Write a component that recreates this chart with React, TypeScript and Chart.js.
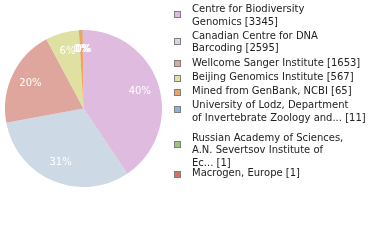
import React, { useEffect, useRef } from "react";
import { Chart, registerables } from "chart.js";

Chart.register(...registerables);

const categories = [
  "Centre for Biodiversity Genomics",
  "Canadian Centre for DNA Barcoding",
  "Wellcome Sanger Institute",
  "Beijing Genomics Institute",
  "Mined from GenBank, NCBI",
  "University of Lodz, Department of Invertebrate Zoology and...",
  "Russian Academy of Sciences, A.N. Severtsov Institute of Ec...",
  "Macrogen, Europe",
];

const values = [3345, 2595, 1653, 567, 65, 11, 1, 1];

// word counts after which each legend label wraps
const legendBreaks = [[3], [4], [], [], [], [4], [4, 8], []];

const colors = [
  "#dfbbdf",
  "#cdd9e5",
  "#dea69d",
  "#dfe0a1",
  "#eda463",
  "#91b1d9",
  "#9fc379",
  "#da705f",
];

// layout constants (legend)
const LEGEND_BOX_X = 174.5;
const LEGEND_TEXT_X = 192;
const LEGEND_LINE_H = 12.5;
const legendFirstLineY = [9.5, 36, 63.5, 77.5, 91, 105.5, 138, 173.5];
const legendBoxY = [14, 41, 63.5, 78.5, 92, 109, 144, 174];

function legendLines(i: number): string[] {
  const words = `${categories[i]} [${values[i]}]`.split(" ");
  const breaks = legendBreaks[i];
  const lines: string[] = [];
  let start = 0;
  for (const b of breaks) {
    lines.push(words.slice(start, b).join(" "));
    start = b;
  }
  lines.push(words.slice(start).join(" "));
  return lines;
}

const legendPlugin = {
  id: "customLegend",
  afterDraw(chart: any) {
    const ctx = chart.ctx as CanvasRenderingContext2D;
    ctx.save();
    ctx.font = '10px "DejaVu Sans"';
    ctx.textBaseline = "middle";
    ctx.textAlign = "left";
    categories.forEach((_, i) => {
      const by = Math.round(legendBoxY[i] - 3.5) + 0.5;
      ctx.fillStyle = colors[i];
      ctx.fillRect(LEGEND_BOX_X, by, 6, 6);
      ctx.strokeStyle = "#7f7f7f";
      ctx.lineWidth = 1;
      ctx.strokeRect(LEGEND_BOX_X, by, 6, 6);
      ctx.fillStyle = "#222222";
      legendLines(i).forEach((line, j) => {
        ctx.fillText(line, LEGEND_TEXT_X, legendFirstLineY[i] + j * LEGEND_LINE_H);
      });
    });
    ctx.restore();
  },
};

const pctPlugin = {
  id: "pctLabels",
  afterDatasetsDraw(chart: any) {
    const ctx = chart.ctx as CanvasRenderingContext2D;
    const meta = chart.getDatasetMeta(0);
    const total = values.reduce((a, b) => a + b, 0);
    ctx.save();
    ctx.font = '10px "DejaVu Sans"';
    ctx.fillStyle = "#ffffff";
    ctx.textAlign = "center";
    ctx.textBaseline = "middle";
    meta.data.forEach((arc: any, i: number) => {
      const { x, y, startAngle, endAngle, outerRadius } = arc.getProps(
        ["x", "y", "startAngle", "endAngle", "outerRadius"],
        true
      );
      const mid = (startAngle + endAngle) / 2;
      const r = outerRadius * 0.75;
      const pct = Math.floor((values[i] / total) * 100);
      ctx.fillText(`${pct}%`, x + Math.cos(mid) * r, y + Math.sin(mid) * r);
    });
    ctx.restore();
  },
};

export default function App() {
  const ref = useRef<HTMLCanvasElement | null>(null);
  useEffect(() => {
    if (!ref.current) return;
    const chart = new Chart(ref.current, {
      type: "pie",
      data: {
        labels: categories,
        datasets: [
          {
            data: values,
            backgroundColor: colors,
            borderWidth: 0,
          },
        ],
      },
      options: {
        responsive: false,
        animation: false,
        layout: { padding: { left: 5, top: 30, right: 218, bottom: 53 } },
        plugins: {
          legend: { display: false },
          tooltip: { enabled: false },
        },
      },
      plugins: [pctPlugin, legendPlugin],
    });
    return () => chart.destroy();
  }, []);
  return (
    <div style={{ position: "absolute", left: 0, top: 0, width: 380, height: 240, background: "#fff" }}>
      <canvas ref={ref} width={380} height={240} />
    </div>
  );
}
